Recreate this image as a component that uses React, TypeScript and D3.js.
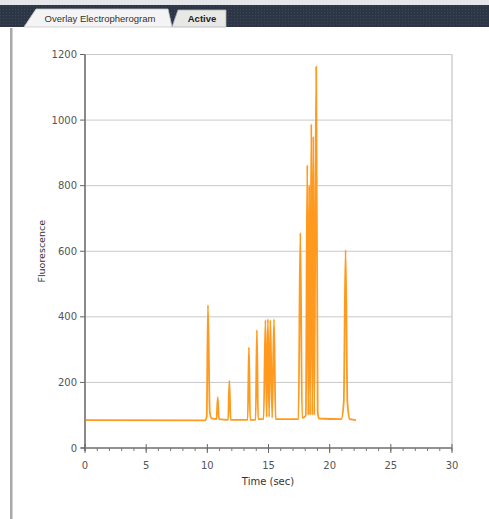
import React from "react";
import * as d3 from "d3";

// Trace points: time (sec) and fluorescence
const traceTime = [
  0, 9.8, 9.95, 10.05, 10.2, 10.35, 10.75, 10.85, 10.95, 11.7, 11.8, 11.9,
  13.3, 13.4, 13.5, 13.95, 14.05, 14.15, 14.6, 14.75, 14.85, 14.95, 15.05,
  15.15, 15.3, 15.45, 15.58, 17.45, 17.6, 17.75, 17.95, 18.05, 18.17, 18.25,
  18.33, 18.4, 18.5, 18.58, 18.66, 18.74, 18.9, 19.02, 19.12, 20.95, 21.15,
  21.3, 21.45, 21.65, 22.15,
];
const traceValue = [
  85, 84, 95, 436, 110, 90, 88, 155, 88, 86, 205, 86,
  86, 307, 86, 86, 360, 88, 88, 390, 95, 393, 95,
  390, 92, 393, 88, 88, 656, 92, 95, 100, 863, 100,
  800, 100, 988, 100, 950, 100, 1163, 110, 90, 88, 140,
  604, 140, 88, 85,
];
const yTicks = [0, 200, 400, 600, 800, 1000, 1200];
const xTicks = [0, 5, 10, 15, 20, 25, 30];
const xMinorTicks = d3.range(0, 31, 1);

const W = 489;
const H = 519;

export default function App() {
  const x = d3.scaleLinear().domain([0, 30]).range([85, 452]);
  const y = d3.scaleLinear().domain([0, 1200]).range([448, 54.5]);
  const pts = traceTime.map((t, i) => [t, traceValue[i]] as [number, number]);
  const line = d3
    .line<[number, number]>()
    .x((d) => x(d[0]))
    .y((d) => y(d[1]))
    .curve(d3.curveMonotoneX);
  const font = "'DejaVu Sans', Verdana, sans-serif";
  const tabFont = "'Liberation Sans', Arial, sans-serif";
  return (
    <svg
      width={W}
      height={H}
      style={{ position: "absolute", left: 0, top: 0, background: "#fff" }}
    >
      <defs>
        <pattern id="grid" width="3" height="3" patternUnits="userSpaceOnUse">
          <rect width="3" height="3" fill="#2c3646" />
          <rect width="1" height="1" fill="#3d4757" />
        </pattern>
      </defs>
      {/* tab bar */}
      <rect x={0} y={0} width={W} height={5} fill="#e4e6ea" />
      <rect x={0} y={5} width={W} height={22} fill="url(#grid)" />
      <path d="M24,27 L36,9 L168,9 L172,27 Z" fill="#f4f4f4" stroke="#c8c8c8" strokeWidth={0.8} />
      <path d="M172,27 L178,10 L226,10 L226,27 Z" fill="#e8e8e6" stroke="#b0b0b0" strokeWidth={0.8} />
      <text x={100} y={22} textAnchor="middle" fontFamily={tabFont} fontSize={9.5} fill="#333">
        Overlay Electropherogram
      </text>
      <text x={202} y={22} textAnchor="middle" fontFamily={tabFont} fontSize={9.5} fontWeight="bold" fill="#222">
        Active
      </text>
      {/* left panel border */}
      <rect x={10} y={28} width={2.5} height={H - 28} fill="#a8a8a8" />

      {/* gridlines */}
      {yTicks.map((v) => (
        <line key={"g" + v} x1={x(0)} x2={x(30)} y1={y(v)} y2={y(v)} stroke="#c9c9c9" strokeWidth={1} />
      ))}
      <line x1={x(30)} x2={x(30)} y1={y(1200)} y2={y(0)} stroke="#cfcfcf" strokeWidth={1.5} />

      {/* trace */}
      <path d={line(pts) || ""} fill="none" stroke="#ff9a1e" strokeWidth={1.8} strokeLinejoin="round" />

      {/* y axis */}
      <line x1={x(0)} x2={x(0)} y1={y(1200)} y2={y(0) + 3} stroke="#8a8a8a" strokeWidth={2} />
      {yTicks.map((v) => (
        <g key={"y" + v}>
          <line x1={x(0) - 5} x2={x(0)} y1={y(v)} y2={y(v)} stroke="#666" strokeWidth={1} />
          <text x={77} y={y(v) + 3.5} textAnchor="end" fontFamily={font} fontSize={10} fill="#555">
            {v}
          </text>
        </g>
      ))}
      <text
        transform={`translate(45,${(y(0) + y(1200)) / 2}) rotate(-90)`}
        textAnchor="middle"
        fontFamily={font}
        fontSize={9.5}
        fill="#333"
      >
        Fluorescence
      </text>

      {/* x axis */}
      <line x1={x(0) - 4} x2={x(30)} y1={y(0)} y2={y(0)} stroke="#777" strokeWidth={1.5} />
      {xMinorTicks.map((v) => (
        <line key={"m" + v} x1={x(v)} x2={x(v)} y1={y(0)} y2={y(0) + 3} stroke="#777" strokeWidth={1} />
      ))}
      {xTicks.map((v) => (
        <g key={"x" + v}>
          <line x1={x(v)} x2={x(v)} y1={y(0) - 4} y2={y(0) + 5} stroke="#666" strokeWidth={1} />
          <text x={x(v)} y={469} textAnchor="middle" fontFamily={font} fontSize={10} fill="#555">
            {v}
          </text>
        </g>
      ))}
      <text x={268} y={485} textAnchor="middle" fontFamily={font} fontSize={10} fill="#333">
        Time (sec)
      </text>
    </svg>
  );
}
